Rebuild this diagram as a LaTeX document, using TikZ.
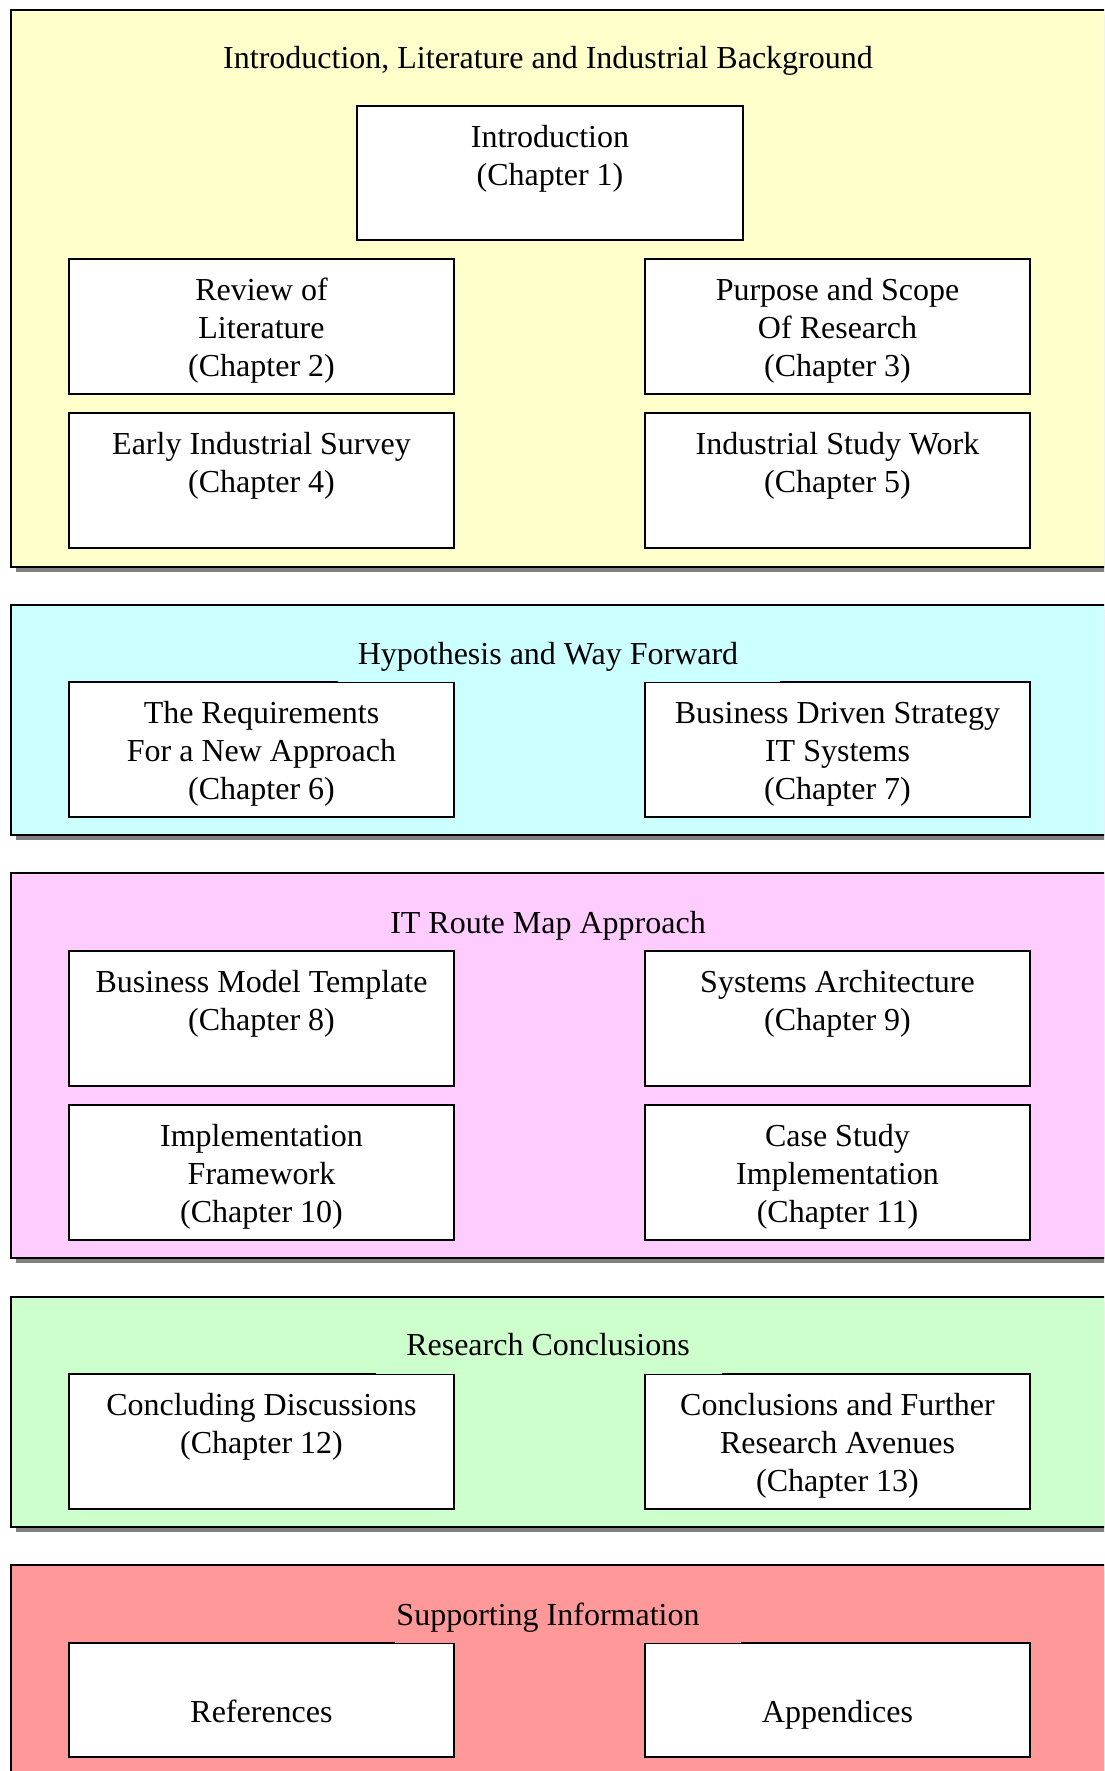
\documentclass[tikz,border=0pt]{standalone}
\usepackage{fontspec}
\setmainfont{Liberation Serif}
\usetikzlibrary{shadows}
\definecolor{bgyellow}{HTML}{FFFFCC}
\definecolor{bgcyan}{HTML}{CCFFFF}
\definecolor{bgpink}{HTML}{FFCCFF}
\definecolor{bggreen}{HTML}{CCFFCC}
\definecolor{bgred}{HTML}{FF9999}
\definecolor{shadowgray}{HTML}{808080}
% fixed-height opener for the first text line of a chapter box
\newcommand\chopen{\rule{0pt}{27pt}}
\begin{document}
\begin{tikzpicture}[x=1pt,y=-1pt,
  panel/.style={draw=black, line width=2pt, anchor=north west, inner sep=0pt, outer sep=0pt,
    minimum width=1150pt,
    drop shadow={shadow xshift=5pt, shadow yshift=-5pt, fill=shadowgray, opacity=1}},
  chbox/.style={draw=black, fill=white, line width=2pt, anchor=north west, inner sep=0pt,
    outer sep=0pt, minimum width=385pt, minimum height=135pt},
  chtext/.style={anchor=north, inner sep=0pt, align=center,
    font=\fontsize{32}{38}\selectfont},
  ptitle/.style={anchor=base, inner sep=0pt, font=\fontsize{32}{38}\selectfont}
]
\useasboundingbox (0,0) rectangle (1104,1771);
\clip (0,0) rectangle (1104,1771);

% ---------- Introduction, Literature and Industrial Background ----------
\node[panel, fill=bgyellow, minimum height=557pt] (p1) at (11,10) {};
\node[chbox, minimum width=386pt, minimum height=134pt] (c1) at (357,106) {};
\node[chbox] (c2) at (69,259) {};
\node[chbox] (c3) at (645,259) {};
\node[chbox] (c4) at (69,413) {};
\node[chbox] (c5) at (645,413) {};
\node[ptitle] (t1) at (548,69) {Introduction, Literature and Industrial Background};
\node[chtext] (c1t) at ([yshift=-14pt]c1.north) {\chopen Introduction\\(Chapter 1)};
\node[chtext] (c2t) at ([yshift=-14pt]c2.north) {\chopen Review of\\Literature\\(Chapter 2)};
\node[chtext] (c3t) at ([yshift=-14pt]c3.north) {\chopen Purpose and Scope\\Of Research\\(Chapter 3)};
\node[chtext] (c4t) at ([yshift=-14pt]c4.north) {\chopen Early Industrial Survey\\(Chapter 4)};
\node[chtext] (c5t) at ([yshift=-14pt]c5.north) {\chopen Industrial Study Work\\(Chapter 5)};

% ---------- Hypothesis and Way Forward ----------
\node[panel, fill=bgcyan, minimum height=230pt] (p2) at (11,605) {};
\node[chbox] (c6) at (69,682) {};
\node[chbox] (c7) at (645,682) {};
\fill[bgcyan] (338,670) rectangle (780,682);
\node[ptitle] (t2) at (548,664) {Hypothesis and Way Forward};
\node[chtext] (c6t) at ([yshift=-14pt]c6.north) {\chopen The Requirements\\For a New Approach\\(Chapter 6)};
\node[chtext] (c7t) at ([yshift=-14pt]c7.north) {\chopen Business Driven Strategy\\IT Systems\\(Chapter 7)};

% ---------- IT Route Map Approach ----------
\node[panel, fill=bgpink, minimum height=385pt] (p3) at (11,873) {};
\node[chbox] (c8) at (69,951) {};
\node[chbox] (c9) at (645,951) {};
\node[chbox] (c10) at (69,1105) {};
\node[chbox] (c11) at (645,1105) {};
\node[ptitle] (t3) at (548,933) {IT Route Map Approach};
\node[chtext] (c8t) at ([yshift=-14pt]c8.north) {\chopen Business Model Template\\(Chapter 8)};
\node[chtext] (c9t) at ([yshift=-14pt]c9.north) {\chopen Systems Architecture\\(Chapter 9)};
\node[chtext] (c10t) at ([yshift=-14pt]c10.north) {\chopen Implementation\\Framework\\(Chapter 10)};
\node[chtext] (c11t) at ([yshift=-14pt]c11.north) {\chopen Case Study\\Implementation\\(Chapter 11)};

% ---------- Research Conclusions ----------
\node[panel, fill=bggreen, minimum height=230pt] (p4) at (11,1297) {};
\node[chbox] (c12) at (69,1374) {};
\node[chbox] (c13) at (645,1374) {};
\fill[bggreen] (376,1362) rectangle (722,1374);
\node[ptitle] (t4) at (548,1355) {Research Conclusions};
\node[chtext] (c12t) at ([yshift=-14pt]c12.north) {\chopen Concluding Discussions\\(Chapter 12)};
\node[chtext] (c13t) at ([yshift=-14pt]c13.north) {\chopen Conclusions and Further\\Research Avenues\\(Chapter 13)};

% ---------- Supporting Information ----------
\node[panel, fill=bgred, minimum height=300pt] (p5) at (11,1565) {};
\node[chbox, minimum height=114pt] (r1) at (69,1643) {};
\node[chbox, minimum height=114pt] (r2) at (645,1643) {};
\fill[bgred] (395,1631) rectangle (741,1643);
\node[ptitle] (t5) at (548,1625) {Supporting Information};
\node[chtext] (r1t) at ([yshift=-14pt]r1.north) {\chopen\\References};
\node[chtext] (r2t) at ([yshift=-14pt]r2.north) {\chopen\\Appendices};
\end{tikzpicture}
\end{document}
